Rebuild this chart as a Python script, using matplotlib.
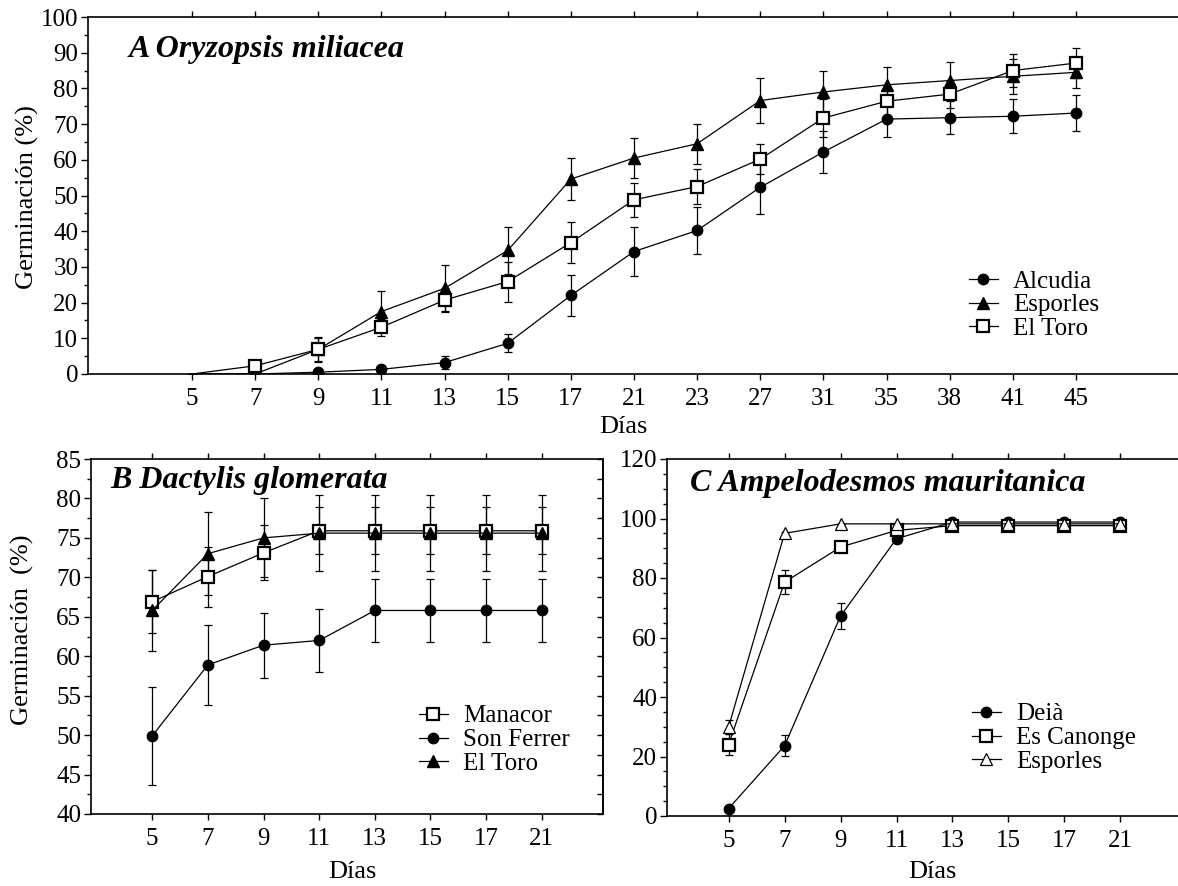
"""Germination curves for three grasses (panels A, B, C)."""

import numpy as np
import matplotlib
matplotlib.use("Agg")
import matplotlib.pyplot as plt
from matplotlib.ticker import MultipleLocator

plt.rcParams['font.family'] = ['Liberation Serif', 'DejaVu Serif']

W, H = 1178, 886

# panel A: Oryzopsis miliacea
days_a = [5, 7, 9, 11, 13, 15, 17, 21, 23, 27, 31, 35, 38, 41, 45]
alcudia = [0, 0, 0.5, 1.3, 3.2, 8.6, 22, 34.3, 40.2, 52.3, 62.2, 71.4, 71.8, 72.2, 73.1]
alcudia_err = [0, 0, 0, 0, 1.8, 2.5, 5.8, 6.9, 6.5, 7.5, 6.0, 5.1, 4.7, 4.7, 5.0]
esporles_a = [0, 0, 6.9, 17.5, 24, 34.6, 54.6, 60.5, 64.5, 76.6, 79, 81, 82.2, 83.4, 84.5]
esporles_a_err = [0, 0, 3.3, 5.8, 6.4, 6.7, 6.0, 5.6, 5.6, 6.2, 6.0, 5.1, 5.3, 4.9, 4.4]
toro_a = [0, 2.3, 6.9, 13.1, 20.7, 25.9, 36.8, 48.8, 52.5, 60.2, 71.7, 76.4, 78.4, 85, 87.1]
toro_a_err = [0, 0, 3.4, 2.4, 3.3, 5.6, 5.7, 4.8, 4.8, 4.3, 5.3, 4.0, 4.0, 4.5, 4.2]

# panel B: Dactylis glomerata
days_b = [5, 7, 9, 11, 13, 15, 17, 21]
manacor = [66.9, 70.1, 73.1, 75.9, 75.9, 75.9, 75.9, 75.9]
manacor_err = [4.0, 3.8, 3.5, 3.0, 3.0, 3.0, 3.0, 3.0]
sonferrer = [49.9, 58.9, 61.4, 62.0, 65.8, 65.8, 65.8, 65.8]
sonferrer_err = [6.2, 5.1, 4.1, 4.0, 4.0, 4.0, 4.0, 4.0]
toro_b = [65.8, 73.0, 75.0, 75.6, 75.6, 75.6, 75.6, 75.6]
toro_b_err = [5.1, 5.3, 5.0, 4.8, 4.8, 4.8, 4.8, 4.8]

# panel C: Ampelodesmos mauritanica
days_c = [5, 7, 9, 11, 13, 15, 17, 21]
deia = [2.5, 23.6, 67.2, 93.2, 98.8, 98.8, 98.8, 98.8]
deia_err = [0, 3.5, 4.5, 1.0, 0.5, 0.5, 0.5, 0.5]
canonge = [24, 78.6, 90.4, 96, 97.6, 97.6, 97.6, 97.6]
canonge_err = [3.5, 4.0, 1.5, 1.0, 0.5, 0.5, 0.5, 0.5]
esporles_c = [29.9, 95, 98.2, 98.2, 98.2, 98.2, 98.2, 98.2]
esporles_c_err = [2.5, 0.5, 0, 0, 0, 0, 0, 0]

STYLES = {
    'circle': dict(marker='o', ms=7.5, mfc='black', mec='black'),
    'tri': dict(marker='^', ms=8.5, mfc='black', mec='black'),
    'square': dict(marker='s', ms=9, mfc='white', mec='black', mew=1.6),
    'opentri': dict(marker='^', ms=8.5, mfc='white', mec='black', mew=0.9),
}

FS = 18
TITLE_FS = 23


def px_axes(fig, x0, y0, x1, y1):
    return fig.add_axes([x0 / W, 1 - y1 / H, (x1 - x0) / W, (y1 - y0) / H])


def series(ax, x, y, err, style, label, first=0):
    y = np.asarray(y, dtype=float)
    err = np.asarray(err, dtype=float)
    ax.errorbar(x, y, yerr=err, fmt='none', ecolor='black', elinewidth=0.9,
                capsize=2.8, capthick=0.9, zorder=2)
    ax.plot(x, y, color='black', lw=0.9, markevery=list(range(first, len(x))),
            label=label, zorder=3, **STYLES[style])


def style_axes(ax, days, ylim, major, minor):
    x = np.arange(len(days))
    ax.set_xticks(x)
    ax.set_xticklabels([str(d) for d in days])
    ax.set_ylim(*ylim)
    ax.yaxis.set_major_locator(MultipleLocator(major))
    ax.yaxis.set_minor_locator(MultipleLocator(minor))
    ax.spines['right'].set_visible(False)
    for s in ['left', 'bottom', 'top']:
        ax.spines[s].set_linewidth(1.2)
    ax.tick_params(axis='x', which='both', top=True, direction='out',
                   length=4, width=1, labelsize=FS, pad=6)
    ax.tick_params(axis='y', which='major', direction='out', length=5, width=1,
                   labelsize=FS, pad=2)
    ax.tick_params(axis='y', which='minor', direction='out', length=3, width=1)
    ax.tick_params(axis='x', which='minor', bottom=False, top=False)
    return x


def legend(ax, x, y):
    ax.legend(loc='upper left', bbox_to_anchor=(x / W, 1 - y / H),
              bbox_transform=ax.figure.transFigure, frameon=False,
              fontsize=FS, borderpad=0, borderaxespad=0, handlelength=1.15,
              handletextpad=0.6, labelspacing=0.05)


fig = plt.figure(figsize=(W / 100, H / 100), dpi=100)

# ---- A
ax = px_axes(fig, 88, 17, 1180, 374)
x = style_axes(ax, days_a, (0, 100), 10, 5)
ax.set_xlim(-1.647, len(days_a) - 1 + 1.647)
series(ax, x, alcudia, alcudia_err, 'circle', 'Alcudia', first=2)
series(ax, x, esporles_a, esporles_a_err, 'tri', 'Esporles', first=2)
series(ax, x, toro_a, toro_a_err, 'square', 'El Toro', first=1)
ax.set_xlabel('Días', fontsize=19, va='center')
ax.xaxis.set_label_coords(0.49, -0.148)
ax.set_ylabel('Germinación (%)', fontsize=19, va='center')
ax.yaxis.set_label_coords(-0.055, 0.496)
legend(ax, 969, 270)
fig.text(129 / W, 1 - 49 / H, 'A Oryzopsis miliacea', fontsize=TITLE_FS,
         fontweight='bold', fontstyle='italic', va='center')

# ---- B
ax = px_axes(fig, 91, 459, 603, 814)
x = style_axes(ax, days_b, (40, 85), 5, 2.5)
ax.set_xlim(-1.1, len(days_b) - 1 + 1.1)
series(ax, x, manacor, manacor_err, 'square', 'Manacor')
series(ax, x, sonferrer, sonferrer_err, 'circle', 'Son Ferrer')
series(ax, x, toro_b, toro_b_err, 'tri', 'El Toro')
ax.spines['right'].set_visible(True)
ax.spines['right'].set_linewidth(1.2)
sec = ax.secondary_yaxis('right')
sec.yaxis.set_major_locator(MultipleLocator(2.5))
sec.tick_params(direction='in', length=4, width=1, labelright=False)
sec.spines['right'].set_linewidth(1.2)
ax.set_xlabel('Días', fontsize=19, va='center')
ax.xaxis.set_label_coords(0.51, -0.163)
ax.set_ylabel('Germinación  (%)', fontsize=19, va='center')
ax.yaxis.set_label_coords(-0.133, 0.518)
legend(ax, 419, 705)
fig.text(110 / W, 1 - 480 / H, 'B Dactylis glomerata', fontsize=TITLE_FS,
         fontweight='bold', fontstyle='italic', va='center')

# ---- C
ax = px_axes(fig, 667, 459, 1182, 816)
x = style_axes(ax, days_c, (0, 120), 20, 5)
ax.set_xlim(-1.1, len(days_c) - 1 + 1.1)
series(ax, x, deia, deia_err, 'circle', 'Deià')
series(ax, x, canonge, canonge_err, 'square', 'Es Canonge')
series(ax, x, esporles_c, esporles_c_err, 'opentri', 'Esporles')
ax.set_xlabel('Días', fontsize=19, va='center')
ax.xaxis.set_label_coords(0.515, -0.157)
legend(ax, 972, 703)
fig.text(690 / W, 1 - 483 / H, 'C Ampelodesmos mauritanica', fontsize=TITLE_FS,
         fontweight='bold', fontstyle='italic', va='center')

fig.savefig('out.png', dpi=100)
